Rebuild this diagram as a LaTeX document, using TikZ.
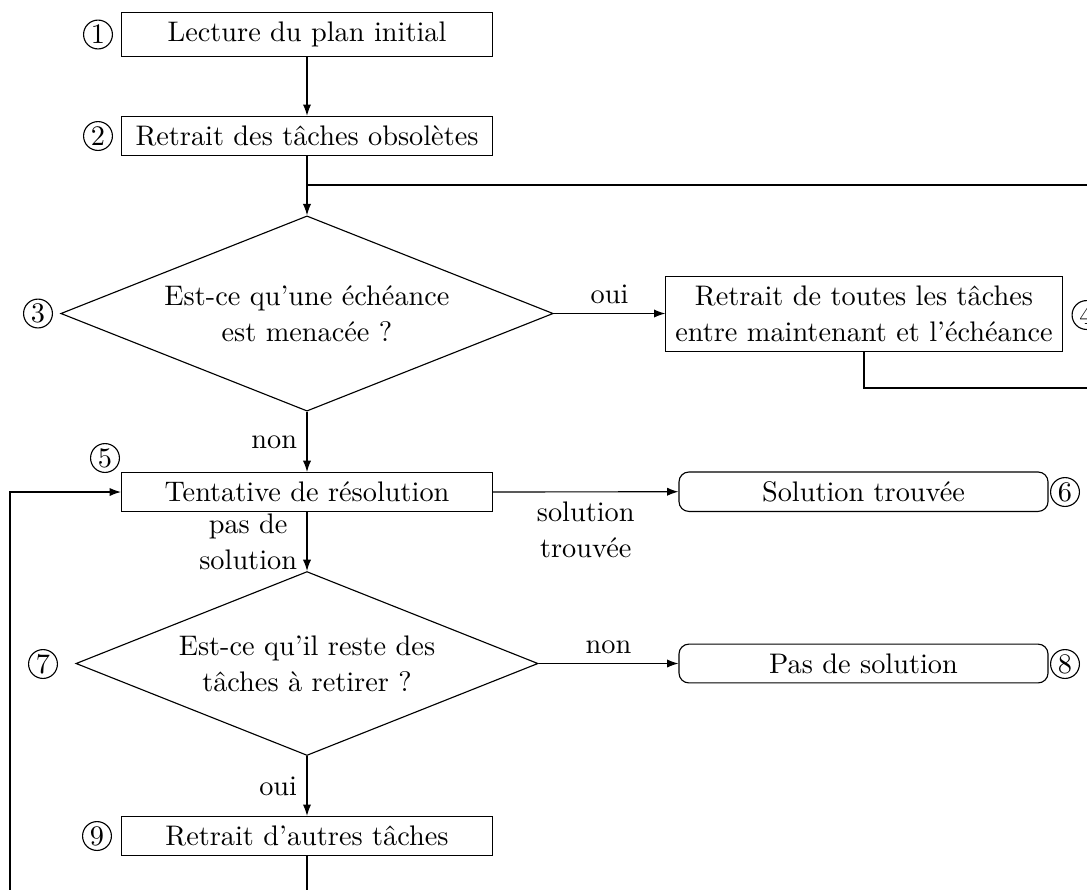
\documentclass[tikz,border=0pt]{standalone}
\usetikzlibrary{shapes.geometric,arrows.meta}
\begin{document}
\begin{tikzpicture}[x=0.35336pt,y=-0.35336pt,
  font=\linespread{1.06}\selectfont,
  proc/.style={draw, rectangle, minimum width=131.1pt, align=center},
  term/.style={draw, rectangle, rounded corners=3.5pt, minimum width=130.4pt, minimum height=13.6pt, align=center},
  dec/.style={draw, diamond, aspect=2.5, align=center, inner sep=0pt},
  num/.style={circle, draw, inner sep=0pt, minimum size=10.2pt},
  flow/.style={-{Latex[length=4pt,width=2.9pt]}}]
\useasboundingbox (0,0) rectangle (1087,889);
% nodes
\node[proc] (b1) at (307,34.5) {Lecture du plan initial};
\node[proc] (b2) at (307,136) {Retrait des tâches obsolètes};
\node[dec, minimum width=174pt, minimum height=69pt] (d3) at (307,313.5) {Est-ce qu’une échéance\\est menacée ?};
\node[proc] (b4) at (864,314) {Retrait de toutes les tâches\\entre maintenant et l’échéance};
\node[proc] (b5) at (307,492) {Tentative de résolution};
\node[term] (b6) at (863.5,491.7) {Solution trouvée};
\node[dec, minimum width=163.3pt, minimum height=65pt] (d7) at (307,663.5) {Est-ce qu’il reste des\\tâches à retirer ?};
\node[term] (b8) at (863.5,663.5) {Pas de solution};
\node[proc] (b9) at (307,836) {Retrait d’autres tâches};
% numbers
\node[num] (n1) at (98,34.5) {1};
\node[num] (n2) at (98,136) {2};
\node[num] (n3) at (38,313.5) {3};
\node[num] (n4) at (1086.5,315) {4};
\node[num] (n5) at (105,458) {5};
\node[num] (n6) at (1065,492) {6};
\node[num] (n7) at (43,664) {7};
\node[num] (n8) at (1065,664) {8};
\node[num] (n9) at (97,836) {9};
% helper coordinates
\coordinate (jn) at (307,185);
\coordinate (r4) at (1110,388);
\coordinate (lb) at (10,905);
% connectors
\draw[flow] (b1) -- (b2);
\draw[flow] (b2) -- (d3);
\draw (b4.south) |- (r4) |- (jn);
\draw[flow] (d3.east) -- node[above]{oui} (d3.east -| b4.west);
\draw[flow] (d3.south) -- node[left]{non} (b5.north);
\draw[flow] (b5.east) -- node[below, align=center]{solution\\trouvée} (b6.west);
\draw[flow] (b5.south) -- node[left, align=center]{pas de\\solution} (d7.north);
\draw[flow] (d7.east) -- node[above]{non} (b8.west);
\draw[flow] (d7.south) -- node[left]{oui} (b9.north);
\draw[flow] (b9.south) |- (lb) |- (b5.west);
\end{tikzpicture}
\end{document}
